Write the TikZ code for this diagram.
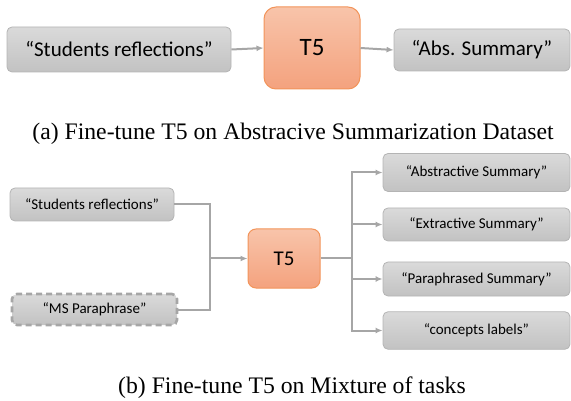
\documentclass[tikz,border=0pt]{standalone}
\usepackage{fontspec}
\setmainfont{Liberation Serif}
\setsansfont{Carlito}
\usetikzlibrary{arrows.meta,shadings}
\definecolor{boxline}{HTML}{B4B4B4}
\definecolor{boxtop}{HTML}{DADADA}
\definecolor{boxbot}{HTML}{C2C2C2}
\definecolor{tfline}{HTML}{F2945A}
\definecolor{tftop}{HTML}{F8C4AA}
\definecolor{tfbot}{HTML}{F4A27E}
\definecolor{wire}{HTML}{A6A6A6}
\tikzset{
	graybox/.style={draw=boxline, line width=0.8pt, rounded corners=5pt, top color=boxtop, bottom color=boxbot, inner sep=0pt, font=\sffamily},
	tfbox/.style={draw=tfline, line width=1pt, top color=tftop, bottom color=tfbot, inner sep=0pt, font=\sffamily},
	wireline/.style={draw=wire, line width=2pt},
	caption/.style={anchor=base, inner sep=0pt, font=\fontsize{23.7}{28}\selectfont}
}
\begin{document}
\begin{tikzpicture}[x=1pt, y=-1pt, >={Latex[length=7pt,width=6pt]}]
		\useasboundingbox (0,0) rectangle (571,401);
		%(a)
		\node [graybox, minimum width=224pt, minimum height=45pt] (srA) at (119,49.5) {\fontsize{21}{25}\selectfont “Students reflections”};
		\node [tfbox, rounded corners=12pt, minimum width=96pt, minimum height=82pt] (tfA) at (312,48) {\fontsize{25}{30}\selectfont T5};
		\node [graybox, minimum width=176pt, minimum height=42pt] (absA) at (482,50) {\fontsize{21}{25}\selectfont “Abs. Summary”};
		\draw [wireline, ->] (srA.east) -- (tfA.west);
		\draw [wireline, ->] (tfA.east) -- (absA.west);
		\node [caption] (capA) at (293,140) {(a) Fine-tune T5 on Abstracive Summarization Dataset};
		%(b) inputs
		\node [graybox, minimum width=164pt, minimum height=33pt] (srB) at (92,204.5) {\fontsize{15}{18}\selectfont “Students reflections”};
		\node [graybox, draw=wire, line width=2.6pt, dash pattern=on 6pt off 4pt, minimum width=165pt, minimum height=31pt] (msB) at (94.5,309.5) {\fontsize{15}{18}\selectfont “MS Paraphrase”};
		\node [tfbox, rounded corners=8pt, minimum width=72pt, minimum height=59pt] (tfB) at (284,258.5) {\fontsize{21}{25}\selectfont T5};
		\coordinate (join) at (210,258.5);
		\draw [wireline] (srB.east) -| (join);
		\draw [wireline] (msB.east) -| (join);
		\draw [wireline, ->] (join) -- (tfB.west);
		%(b) outputs
		\node [graybox, minimum width=187pt, minimum height=38pt] (absB) at (476.5,172.5) {\fontsize{15}{18}\selectfont “Abstractive Summary”};
		\node [graybox, minimum width=187pt, minimum height=33pt] (extB) at (476.5,224.5) {\fontsize{15}{18}\selectfont “Extractive Summary”};
		\node [graybox, minimum width=187pt, minimum height=34pt] (parB) at (476.5,279) {\fontsize{15}{18}\selectfont “Paraphrased Summary”};
		\node [graybox, minimum width=187pt, minimum height=37.5pt] (conB) at (476.5,330.5) {\fontsize{15}{18}\selectfont “concepts labels”};
		\coordinate (split) at (352,258.5);
		\draw [wireline] (tfB.east) -- (split);
		\foreach \out in {absB,extB,parB,conB}
			\draw [wireline, ->] (split) |- (\out.west);
		\node [caption] (capB) at (292,393) {(b) Fine-tune T5 on Mixture of tasks};
	\end{tikzpicture}
\end{document}
